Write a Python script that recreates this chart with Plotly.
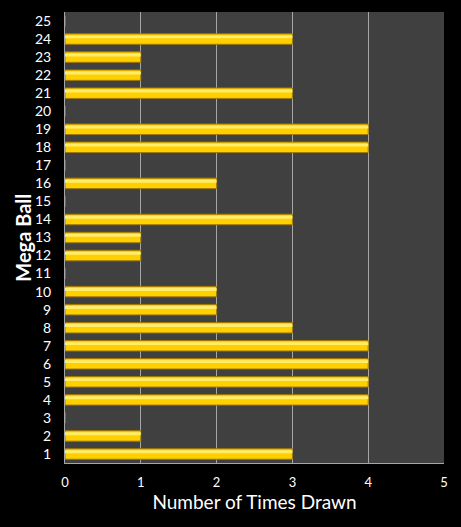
import plotly.graph_objects as go

mega_ball = [str(i) for i in range(1, 26)]
times_drawn = [3, 1, 0, 4, 4, 4, 4, 3, 2, 2, 0, 1, 1, 3, 0, 2, 0, 4, 4, 0, 3, 1, 1, 3, 0]
x_ticks = [0, 1, 2, 3, 4, 5]

fig = go.Figure()
fig.add_trace(go.Bar(
    y=mega_ball, x=times_drawn, orientation="h",
    width=0.58,
    marker=dict(color="#FFD000", line=dict(color="#A07800", width=1)),
    hoverinfo="x+y",
))
# highlight stripe to mimic the glossy bevel
fig.add_trace(go.Bar(
    y=mega_ball, x=times_drawn, orientation="h",
    width=0.16, offset=0.04,
    marker=dict(color="#FFEC6A", line=dict(width=0)),
    hoverinfo="skip",
))
fig.update_layout(
    barmode="overlay",
    width=461, height=527,
    margin=dict(l=65, r=17, t=12, b=64, autoexpand=False),
    paper_bgcolor="#000000",
    plot_bgcolor="#404040",
    showlegend=False,
    font=dict(family="Lato, Open Sans, DejaVu Sans, sans-serif", color="#FFFFFF", size=13),
    xaxis=dict(
        range=[0, 5], tickvals=x_ticks, showgrid=True, gridcolor="#A6A6A6", gridwidth=1,
        zeroline=False, showline=True, linecolor="#A6A6A6", mirror=False,
        ticks="", ticklabelstandoff=7, tickfont=dict(size=13, color="#FFFFFF"),
        title=dict(text="Number of Times Drawn", font=dict(size=19, color="#FFFFFF"), standoff=5),
        fixedrange=True,
    ),
    yaxis=dict(
        type="category", categoryorder="array", categoryarray=mega_ball,
        showgrid=False, zeroline=False, showline=True, linecolor="#A6A6A6",
        ticks="", ticklabelstandoff=10, tickfont=dict(size=14, color="#FFFFFF"),
        fixedrange=True,
    ),
    annotations=[dict(
        text="<b>Mega Ball</b>", xref="paper", yref="paper", x=-0.113, y=0.5,
        xanchor="center", yanchor="middle", textangle=-90, showarrow=False,
        font=dict(size=20, color="#FFFFFF"),
    )],
)
fig.write_html("out.html", config={"displayModeBar": False},
               post_script="document.body.style.margin='0';document.body.style.background='#000';")
